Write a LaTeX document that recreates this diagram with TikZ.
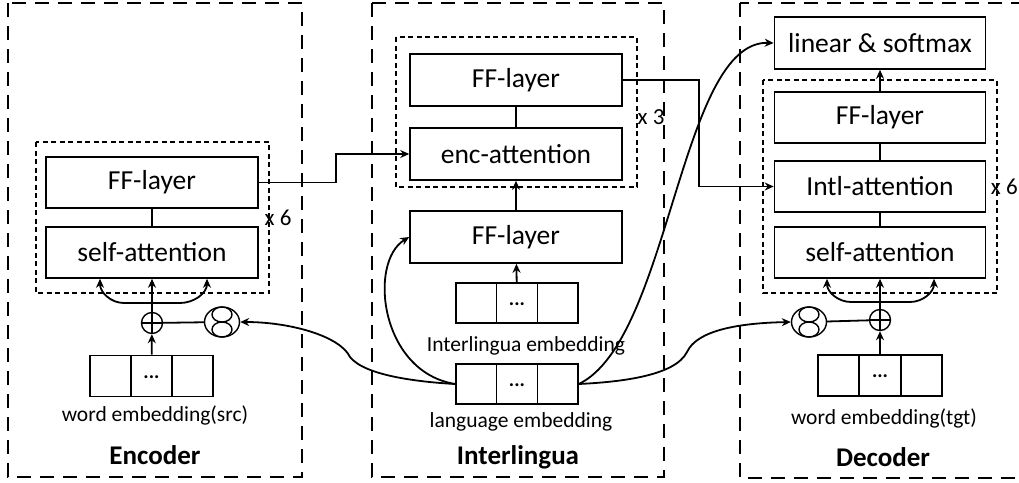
\documentclass[tikz,border=0pt]{standalone}
\usepackage{fontspec}
\setmainfont{Carlito}
\usetikzlibrary{arrows.meta,calc,shapes.geometric}
\tikzset{
  blk/.style={draw, line width=1.6pt, minimum width=212pt, minimum height=51pt, inner sep=0pt, font=\fontsize{27.5}{30}\selectfont},
  emb/.style={draw, line width=1.6pt, minimum width=123pt, minimum height=41pt, inner sep=0pt},
  outerbox/.style={line width=2.8pt, dash pattern=on 14pt off 9pt},
  innerbox/.style={line width=1.4pt, dash pattern=on 5pt off 3.5pt},
  lbl/.style={font=\fontsize{21.5}{24}\selectfont, inner sep=0pt},
  ttl/.style={font=\bfseries\fontsize{27}{30}\selectfont, inner sep=0pt},
  rep/.style={font=\fontsize{23}{26}\selectfont, inner sep=0pt},
  plusnode/.style={draw, circle, line width=1.4pt, minimum size=21pt, inner sep=0pt},
  eightnode/.style={draw, ellipse, line width=1.4pt, minimum width=35pt, minimum height=30pt, inner sep=0pt},
  arr/.style={line width=1.8pt, -{Stealth[length=9pt,width=8pt]}},
  ln/.style={line width=1.8pt},
}
\newcommand{\dotscell}[1]{%
  \draw[line width=1.6pt] ($(#1.north west)!1/3!(#1.north east)$) -- ($(#1.south west)!1/3!(#1.south east)$);
  \draw[line width=1.6pt] ($(#1.north west)!2/3!(#1.north east)$) -- ($(#1.south west)!2/3!(#1.south east)$);
  \node[font=\bfseries\fontsize{20}{24}\selectfont, inner sep=0pt] at ($(#1.center)+(0,1)$) {...};
}
\newcommand{\plusmark}[1]{%
  \draw[line width=1.4pt] (#1.north) -- (#1.south) (#1.west) -- (#1.east);
}
\newcommand{\eightmark}[1]{%
  \draw[line width=1.4pt] ($(#1.center)+(0,-7.5)$) ellipse (10pt and 7.5pt);
  \draw[line width=1.4pt] ($(#1.center)+(0,7.5)$) ellipse (10pt and 7.5pt);
}
\begin{document}
\begin{tikzpicture}[x=1pt,y=-1pt]
\useasboundingbox (0,0) rectangle (1019,482);
\fill[white] (0,0) rectangle (1019,482);

% outer boxes
\draw[outerbox] (8,3) rectangle (302,477);
\draw[outerbox] (372,3) rectangle (664,477);
\draw[outerbox] (740,3) rectangle (1040,478);

% inner boxes
\draw[innerbox] (36,142) rectangle (269,293);
\draw[innerbox] (396,37) rectangle (637,187);
\draw[innerbox] (763,80) rectangle (997,293);

% ---------------- Encoder
\node[blk] (eff) at (152,182.5) {FF-layer};
\node[blk] (esa) at (152,252.5) {self-attention};
\node[rep] (ex) at (278,218) {x 6};
\node[plusnode] (ep) at (152,323) {};
\plusmark{ep}
\node[eightnode] (em) at (222,322) {};
\eightmark{em}
\node[emb] (ee) at (151.5,376) {};
\dotscell{ee}
\node[lbl] (eel) at (155,415) {word embedding(src)};
\node[ttl] (etl) at (155,455) {Encoder};

\draw[ln] (eff) -- (esa);
\draw[arr] (ee) -- (ep);
\draw[ln] (ep) -- (em);
\draw[arr] (ep) -- (esa);
\coordinate (ej) at (152,303);
\draw[arr] (ej) -- (124,303) to[out=180,in=-90] ($(esa.south)+(-52,0)$);
\draw[arr] (ej) -- (180,303) to[out=0,in=-90] ($(esa.south)+(55,0)$);

% ---------------- Interlingua
\node[blk, minimum height=52pt] (iff) at (516,80) {FF-layer};
\node[blk, minimum height=52pt] (iea) at (516,154) {enc-attention};
\node[rep] (ix) at (651,117) {x 3};
\node[blk, minimum height=52pt] (iff2) at (516,237) {FF-layer};
\node[emb, minimum width=122pt, minimum height=40pt] (ie) at (517,303) {};
\dotscell{ie}
\node[lbl] (iel) at (526,346) {Interlingua embedding};
\node[emb, minimum width=122pt, minimum height=40pt] (le) at (517,384) {};
\dotscell{le}
\node[lbl] (lel) at (521,422) {language embedding};
\node[ttl] (itl) at (518,457) {Interlingua};

\draw[ln] (iff) -- (iea);
\draw[arr] (iff2) -- (iea);
\draw[arr] (ie) -- (iff2);

% ---------------- Decoder
\node[blk, minimum width=211pt, minimum height=52pt] (dls) at (880,43) {linear \& softmax};
\node[blk, minimum width=211pt] (dff) at (880,117.5) {FF-layer};
\node[blk, minimum width=211pt] (dia) at (880,186.5) {Intl-attention};
\node[blk, minimum width=211pt] (dsa) at (880,252.5) {self-attention};
\node[rep, anchor=east] (dx) at (1018,187) {x 6};
\node[plusnode] (dp) at (880,320) {};
\plusmark{dp}
\node[eightnode] (dm) at (809,322) {};
\eightmark{dm}
\node[emb, minimum width=124pt] (de) at (880,375.5) {};
\dotscell{de}
\node[lbl] (del) at (884,418) {word embedding(tgt)};
\node[ttl] (dtl) at (883,457) {Decoder};

\draw[arr] (dff) -- (dls);
\draw[ln] (dff) -- (dia);
\draw[ln] (dia) -- (dsa);
\draw[arr] (de) -- (dp);
\draw[ln] (dm) -- (dp);
\draw[arr] (dp) -- (dsa);
\coordinate (dj) at (880,302);
\draw[arr] (dj) -- (851,302) to[out=180,in=-90] ($(dsa.south)+(-53,0)$);
\draw[arr] (dj) -- (910,302) to[out=0,in=-90] ($(dsa.south)+(54,0)$);

% ---------------- cross connections
\draw[arr] (eff.east) -- ++(77,0) |- (iea.west);
\draw[arr] (iff.east) -- ++(76,0) |- (dia.west);

\draw[arr] (le.west) .. controls (380,372) and (368,262) .. (iff2.west);
\draw[arr] (le.west) .. controls (420,382) and (365,376) .. (350,357) .. controls (340,336) and (290,322) .. (em.east);
\draw[arr] (le.east) .. controls (670,340) and (680,40) .. (dls.west);
\draw[arr] (le.east) .. controls (620,382) and (675,376) .. (687,352) .. controls (697,330) and (740,323) .. (dm.west);
\end{tikzpicture}
\end{document}
